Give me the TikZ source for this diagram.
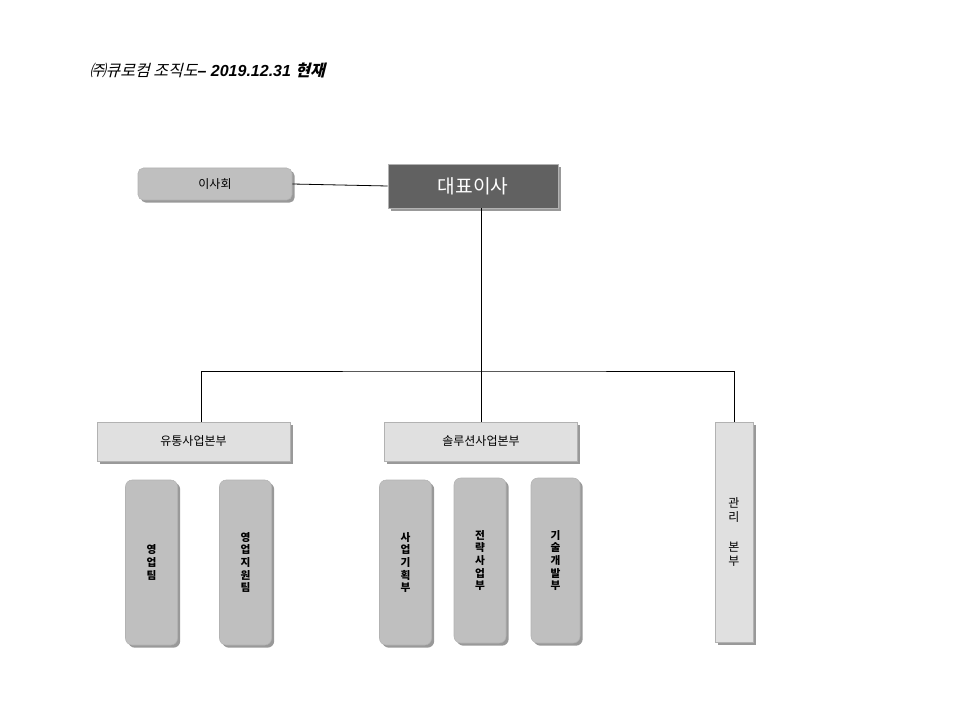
\documentclass[tikz,border=0pt]{standalone}
\usepackage{fontspec}
\setmainfont{Liberation Sans}
\newfontfamily\kr{Noto Sans CJK KR}
\newfontfamily\krit[FakeSlant=0.25]{Noto Sans CJK KR}
\newfontfamily\latit{Liberation Sans}
\usetikzlibrary{shadows}
\begin{document}
\begin{tikzpicture}[x=0.75pt,y=-0.75pt]
	\tikzstyle{boxbase}=[draw=gray!60, font=\kr\bfseries, inner sep=0pt, drop shadow={shadow xshift=2pt, shadow yshift=-2pt, fill=gray!80, opacity=1}]
	\tikzstyle{board}=[boxbase, fill=black!25, rounded corners=4pt, minimum width=154*0.75pt, minimum height=32*0.75pt, font=\kr\small]
	\tikzstyle{ceo}=[boxbase, fill=black!62, text=white, minimum width=170*0.75pt, minimum height=44*0.75pt, font=\kr\Large]
	\tikzstyle{division}=[boxbase, fill=black!12, minimum width=193*0.75pt, minimum height=39*0.75pt, font=\kr\small]
	\tikzstyle{team}=[boxbase, fill=black!25, rounded corners=5pt, minimum width=52*0.75pt, minimum height=165*0.75pt, align=center, font=\kr\footnotesize\bfseries]
	\tikzstyle{tall}=[boxbase, fill=black!12, minimum width=38*0.75pt, minimum height=220*0.75pt, align=center, font=\kr\small]
	\tikzstyle{link}=[draw=black, line width=0.6pt]

	\useasboundingbox (0,0) rectangle (960,720);

	\node[anchor=west, font=\large] (title) at (85,70) {\krit ㈜큐로컴 조직도\latit\itshape\bfseries– 2019.12.31 \krit 현재};

	\node[board] (board) at (215,184) {이사회};
	\node[ceo] (ceo) at (473,186) {대표이사};

	\node[division] (dist) at (193.5,441.5) {유통사업본부};
	\node[division] (sol) at (481,441.5) {솔루션사업본부};
	\node[tall] (admin) at (734,532) {관\\리\\\\본\\부};

	\node[team] (sales) at (151.5,562.5) {영\\업\\팀};
	\node[team] (support) at (245.5,562.5) {영\\업\\지\\원\\팀};
	\node[team] (plan) at (405.5,562.5) {사\\업\\기\\획\\부};
	\node[team] (strat) at (480,560.5) {전\\략\\사\\업\\부};
	\node[team, minimum width=49*0.75pt] (tech) at (555.5,560.5) {기\\술\\개\\발\\부};

	\coordinate (hub) at (481,371);
	\draw[link] (board.east) -- (ceo.west);
	\draw[link] (ceo.south -| hub) -- (sol.north -| hub);
	\draw[link] (dist.north -| 201,0) |- (hub) -| (admin.north);
\end{tikzpicture}
\end{document}
